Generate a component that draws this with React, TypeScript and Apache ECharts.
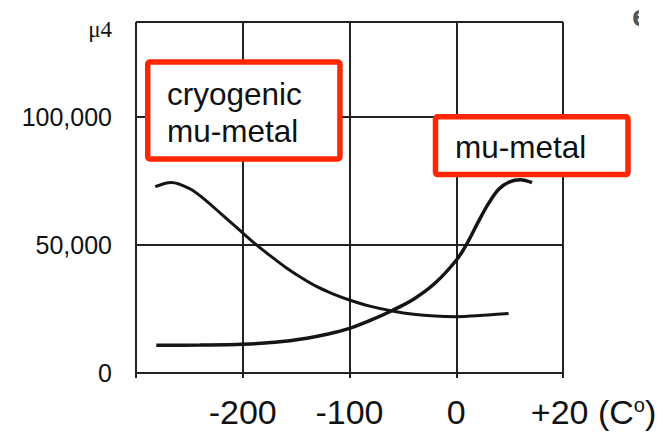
import React, { useEffect, useRef } from "react";
import * as echarts from "echarts";

// Temperature (°C) and permeability readings
const cryoTemps = [-282, -267, -250, -235, -220, -205, -190, -175, -160, -145, -130, -115, -100, -80, -60, -40, -20, 0, 25, 49];
const cryoValues = [72700, 74400, 72000, 67500, 62000, 56500, 51000, 46000, 41300, 37200, 33600, 30800, 28500, 26000, 24200, 22900, 22200, 22000, 22500, 23200];

const muTemps = [-281, -240, -200, -170, -140, -120, -100, -80, -60, -40, -20, 0, 10, 20, 30, 40, 50, 60, 71];
const muValues = [10800, 10900, 11200, 12000, 13600, 15200, 17400, 20600, 24400, 28800, 35000, 44000, 50500, 58500, 66000, 71800, 74600, 75400, 74300];

const xTickLabels: Record<number, string> = {
  [-300]: "",
  [-200]: "-200",
  [-100]: "-100",
  [0]: "0",
  [100]: "{pre| }{t|+20 (C}{sup|o}{t|)}",
};
const yTickLabels: Record<number, string> = {
  [0]: "0",
  [50000]: "50,000",
  [100000]: "100,000",
};
const yUnit = "μ4";
const labelCryo = ["cryogenic", "mu-metal"];
const labelMu = "mu-metal";

const LINE = "#222";
const RED = "#FF2600";

export default function App() {
  const ref = useRef<HTMLDivElement>(null);
  useEffect(() => {
    if (!ref.current) return;
    const chart = echarts.init(ref.current, null, { renderer: "svg" });
    const sans = "'Liberation Sans', Arial, sans-serif";
    chart.setOption({
      animation: false,
      backgroundColor: "#fff",
      grid: { left: 136, right: 100, top: 22, bottom: 64 },
      xAxis: {
        type: "value",
        min: -300,
        max: 100,
        interval: 100,
        axisLine: { show: true, lineStyle: { color: LINE, width: 2 } },
        axisTick: { show: true, length: 5, lineStyle: { color: LINE, width: 2 } },
        splitLine: { show: true, lineStyle: { color: LINE, width: 2 } },
        axisLabel: {
          margin: 22,
          fontSize: 34,
          color: "#111",
          fontFamily: sans,
          formatter: (v: number) => xTickLabels[v] ?? "",
          rich: {
            pre: { width: 61, fontSize: 34 },
            t: { fontSize: 34, color: "#111", fontFamily: sans },
            sup: { fontSize: 20, color: "#111", fontFamily: sans, verticalAlign: "top", lineHeight: 20 },
          },
        },
      },
      yAxis: {
        type: "value",
        min: 0,
        max: 137000,
        interval: 50000,
        axisLine: { show: true, lineStyle: { color: LINE, width: 2 } },
        axisTick: { show: false },
        splitLine: { show: true, lineStyle: { color: LINE, width: 2 } },
        axisLabel: {
          margin: 24,
          fontSize: 25,
          color: "#111",
          fontFamily: sans,
          padding: [9, 0, 0, 0],
          formatter: (v: number) => yTickLabels[v] ?? "",
        },
      },
      series: [
        {
          type: "line",
          name: "cryogenic mu-metal",
          data: cryoTemps.map((t, i) => [t, cryoValues[i]]),
          smooth: 0.35,
          showSymbol: false,
          lineStyle: { color: "#151515", width: 3 },
          z: 5,
        },
        {
          type: "line",
          name: "mu-metal",
          data: muTemps.map((t, i) => [t, muValues[i]]),
          smooth: 0.35,
          showSymbol: false,
          lineStyle: { color: "#151515", width: 3.5 },
          z: 5,
        },
      ],
      graphic: [
        {
          type: "text",
          x: 112,
          y: 29,
          style: {
            text: yUnit,
            fontSize: 23,
            fontFamily: "'Liberation Serif', 'Times New Roman', serif",
            fill: "#111",
            align: "right",
            verticalAlign: "middle",
          },
        },
        {
          type: "text",
          x: 632,
          y: 15,
          style: { text: "e", fontSize: 30, fontFamily: sans, fontWeight: "bold", fill: "#555", align: "left", verticalAlign: "middle" },
        },
        {
          type: "rect",
          shape: { x: 639, y: 0, width: 24, height: 40 },
          style: { fill: "#fff" },
          z: 2,
        },
        {
          type: "rect",
          shape: { x: 147.75, y: 62, width: 192.2, height: 97, r: 2 },
          style: { fill: "#fff", stroke: RED, lineWidth: 5.5 },
          z: 10,
        },
        {
          type: "text",
          x: 167,
          y: 94,
          z: 11,
          style: { text: labelCryo[0], fontSize: 31.5, fontFamily: sans, fill: "#111", align: "left", verticalAlign: "middle" },
        },
        {
          type: "text",
          x: 167,
          y: 130.5,
          z: 11,
          style: { text: labelCryo[1], fontSize: 31.5, fontFamily: sans, fill: "#111", align: "left", verticalAlign: "middle" },
        },
        {
          type: "rect",
          shape: { x: 435.5, y: 116.8, width: 192.5, height: 57.8, r: 2 },
          style: { fill: "#fff", stroke: RED, lineWidth: 5.5 },
          z: 10,
        },
        {
          type: "text",
          x: 455,
          y: 147,
          z: 11,
          style: { text: labelMu, fontSize: 31.5, fontFamily: sans, fill: "#111", align: "left", verticalAlign: "middle" },
        },
      ],
    });
    return () => chart.dispose();
  }, []);
  return <div ref={ref} style={{ position: "fixed", left: 0, top: 0, width: 663, height: 437 }} />;
}
